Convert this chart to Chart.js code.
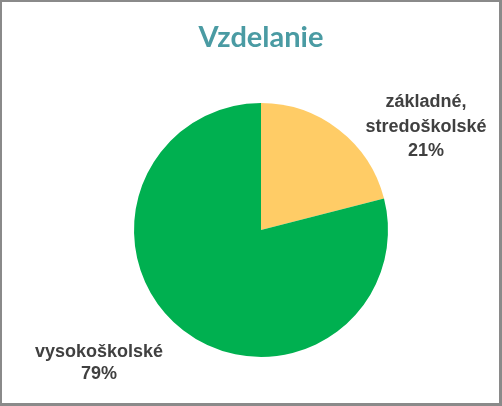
<!DOCTYPE html>
<html>
<head>
<meta charset="utf-8">
<script src="https://cdn.jsdelivr.net/npm/chart.js@4/dist/chart.umd.min.js"></script>
<style>
  html, body { margin: 0; padding: 0; background: #fff; }
  #wrap { position: relative; width: 502px; height: 406px; }
  #frame {
    position: absolute; left: 0; top: 0; width: 502px; height: 406px;
    box-sizing: border-box; border: 2px solid #8a8a8a;
    border-right-width: 3px; border-bottom-width: 3px; pointer-events: none;
  }
</style>
</head>
<body>
<div id="wrap">
  <canvas id="pieChart" width="502" height="406"></canvas>
  <div id="frame"></div>
</div>
<script>
// Dáta
const categories = [['základné,', 'stredoškolské'], ['vysokoškolské']];
const shares = [21, 79];
const sliceColors = ['#ffcc66', '#00b050'];

// Popisky mimo koláča (posun od stredu)
const labelOffsets = [[165, -103], [-162, 133]];

const outsideLabels = {
  id: 'outsideLabels',
  afterDatasetsDraw(chart) {
    const ctx = chart.ctx;
    const meta = chart.getDatasetMeta(0);
    ctx.save();
    ctx.font = 'bold 18px "Liberation Sans Narrow", "Arial Narrow", sans-serif';
    ctx.fillStyle = '#404040';
    ctx.textAlign = 'center';
    ctx.textBaseline = 'middle';
    meta.data.forEach((arc, i) => {
      const lines = categories[i].concat([shares[i] + '%']);
      const cx = arc.x + labelOffsets[i][0];
      const cy = arc.y + labelOffsets[i][1];
      const lh = lines.length > 2 ? 24.5 : 22;
      const y0 = cy - (lines.length - 1) * lh / 2;
      lines.forEach((t, j) => ctx.fillText(t, cx, y0 + j * lh));
    });
    ctx.restore();
  }
};

const pieChart = new Chart(document.getElementById('pieChart'), {
  type: 'pie',
  data: {
    labels: categories.map(c => c.join(' ')),
    datasets: [{
      data: shares,
      backgroundColor: sliceColors,
      borderWidth: 0
    }]
  },
  options: {
    responsive: false,
    animation: false,
    layout: {
      padding: { top: 20, bottom: 49, left: 134, right: 114 }
    },
    plugins: {
      legend: { display: false },
      tooltip: { enabled: false },
      title: {
        display: true,
        text: 'Vzdelanie',
        color: '#4a9ba3',
        font: { family: 'Lato, "Open Sans", sans-serif', size: 29, weight: 'bold', lineHeight: 1.2 },
        padding: { top: 0, bottom: 48.2 }
      }
    }
  },
  plugins: [outsideLabels]
});
</script>
</body>
</html>
